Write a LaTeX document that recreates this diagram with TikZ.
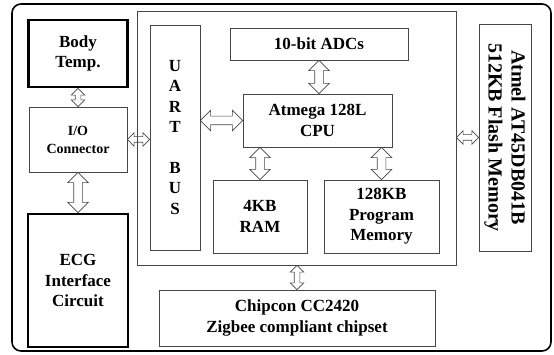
\documentclass[tikz,border=0pt]{standalone}
\usepackage{fontspec}
\setmainfont{Liberation Serif}
\usepackage{tikz}
\definecolor{boxline}{RGB}{70,70,70}
\usetikzlibrary{shapes.arrows,calc}

\tikzset{
  blk/.style={draw=boxline, line width=0.7pt, inner sep=0pt, align=center,
    font=\bfseries\fontsize{17}{20.5}\selectfont},
  thickblk/.style={blk, draw=black, line width=2.8pt},
  bigarrow/.style={double arrow, draw=boxline, line width=0.6pt, minimum width=20pt,
    inner sep=4pt, double arrow head extend=6pt},
  smallarrow/.style={double arrow, draw=boxline, line width=0.6pt, minimum width=13pt,
    inner sep=2.5pt, double arrow head extend=4pt}
}

% hollow double arrow between two points
\newcommand{\linkarrow}[3]{%
  \path let \p1=#2, \p2=#3, \n1={veclen(\x2-\x1,\y2-\y1)}, \n2={atan2(\y2-\y1,\x2-\x1)} in
    node[#1, minimum height=\n1, rotate=\n2] at ($(\p1)!0.5!(\p2)$) {};
}

\begin{document}
\begin{tikzpicture}[x=1pt,y=1pt]
    \useasboundingbox (0,0) rectangle (554,354);
    % outer frame
    \draw[line width=1.6pt, rounded corners=9pt] (12,3) rectangle (551,350);

    % sensor side
    \node[thickblk, minimum width=99, minimum height=67] (bodytemp) at (78,300.5) {Body\\Temp.};
    \node[blk, minimum width=98, minimum height=65, font=\bfseries\fontsize{14}{18}\selectfont] (io) at (78,214.5) {I/O\\Connector};
    \node[thickblk, minimum width=100, minimum height=133] (ecg) at (78,73.5) {ECG\\Interface\\Circuit};

    % microcontroller
    \node[blk, minimum width=319, minimum height=254] (mcu) at (296.5,216) {};
    \node[blk, minimum width=50, minimum height=225] (uart) at (175,216.5) {U\\A\\R\\T\\[20pt]B\\U\\S};
    \node[blk, minimum width=178, minimum height=32] (adc) at (319,310) {10-bit ADCs};
    \node[blk, minimum width=149, minimum height=53] (cpu) at (317.5,233.5) {Atmega 128L\\CPU};
    \node[blk, minimum width=94, minimum height=73] (ram) at (260,137.5) {4KB\\RAM};
    \node[blk, minimum width=115, minimum height=73] (pm) at (381.5,137.5) {128KB\\Program\\Memory};

    % flash (rotated, so its south is on the left)
    \node[blk, rotate=-90, minimum width=227, minimum height=52,
      font=\bfseries\fontsize{20}{23}\selectfont] (flash) at (505,216.5) {Atmel AT45DB041B\\512KB Flash Memory};

    % radio
    \node[blk, minimum width=276, minimum height=56] (chipcon) at (297,36) {Chipcon CC2420\\Zigbee compliant chipset};

    % arrows
    \linkarrow{smallarrow}{(bodytemp.south)}{(io.north)}
    \linkarrow{bigarrow}{(io.south)}{(ecg.north)}
    \linkarrow{smallarrow}{(io.east)}{(io.east -| uart.west)}
    \linkarrow{bigarrow}{(uart.east |- cpu.west)}{(cpu.west)}
    \linkarrow{bigarrow}{(adc.south)}{(adc.south |- cpu.north)}
    \linkarrow{bigarrow}{(ram.north |- cpu.south)}{(ram.north)}
    \linkarrow{bigarrow}{(pm.north |- cpu.south)}{(pm.north)}
    \linkarrow{smallarrow}{(mcu.east |- flash.south)}{(flash.south)}
    \linkarrow{smallarrow}{(mcu.south -| chipcon.north)}{(chipcon.north)}
\end{tikzpicture}
\end{document}
